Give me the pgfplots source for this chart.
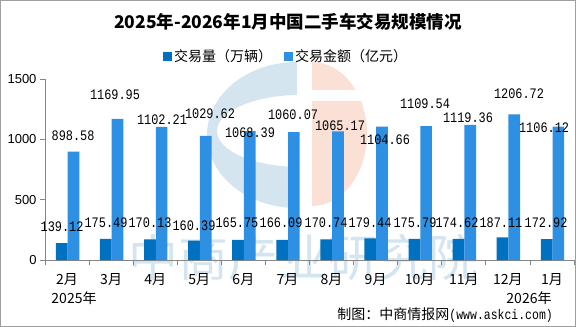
\documentclass[border=0pt]{standalone}
\usepackage{pgfplots}
\pgfplotsset{compat=1.18}
\usepackage{fontspec}
\setmainfont{Liberation Sans}
\newfontfamily\cjk{Noto Sans CJK SC}
\newfontfamily\numfont[FakeStretch=0.82]{Liberation Mono}
\definecolor{darkbar}{RGB}{0,112,192}
\definecolor{lightbar}{RGB}{46,144,226}
\definecolor{axisgray}{RGB}{134,134,134}
\definecolor{wmblue}{RGB}{212,229,240}
\definecolor{wmpeach}{RGB}{251,225,213}
\begin{document}
\begin{tikzpicture}
\useasboundingbox (0,0) rectangle (576bp,327bp);
\fill[white] (0,0) rectangle (576bp,327bp);
% watermark logo
\begin{scope}
\clip (0,0) rectangle (297bp,327bp);
\fill[wmblue, even odd rule] (297bp,192bp) ellipse [x radius=90bp, y radius=73bp] (300bp,196bp) ellipse [x radius=83bp, y radius=36bp];
\end{scope}
\begin{scope}
\clip (312bp,0) rectangle (576bp,327bp);
\fill[wmpeach] (312bp,193bp) ellipse [x radius=55bp, y radius=72bp];
\end{scope}
\fill[white] (312bp,226bp) rectangle (372bp,237bp);
\node[text=wmblue, font=\cjk\fontsize{50bp}{50bp}\selectfont] at (303bp,70bp) {中商产业研究院};
% title
\node[font=\cjk\bfseries\fontsize{17.5bp}{17.5bp}\selectfont] at (288bp,305bp) {2025年-2026年1月中国二手车交易规模情况};
\begin{axis}[
  at={(45bp,67bp)}, anchor=south west,
  scale only axis, width=529bp, height=181bp,
  xmin=-0.5, xmax=11.5, ymin=0, ymax=1500,
  axis x line*=bottom, axis y line*=left,
  axis line style={draw=axisgray, line width=0.8bp, -},
  ytick={0,500,1000,1500},
  /pgf/number format/1000 sep={},
  /pgf/number format/assume math mode=true,
  xtick={0,...,11},
  xticklabels={2月,3月,4月,5月,6月,7月,8月,9月,10月,11月,12月,1月},
  major x tick style={draw=none},
  minor xtick={-0.5,0.5,...,11.5},
  minor x tick style={draw=axisgray, line width=0.8bp},
  y tick style={draw=axisgray, line width=0.8bp},
  major tick length=5bp, minor tick length=5bp, tick align=outside,
  yticklabel style={font=\fontsize{13bp}{13bp}\selectfont},
  xticklabel style={font=\cjk\fontsize{14bp}{14bp}\selectfont, yshift=-4.5bp},
  legend style={at={(0.4556,1.127)}, anchor=center, draw=none, fill=none,
    font=\cjk\fontsize{14bp}{14bp}\selectfont, inner sep=0pt,
    /tikz/every even column/.append style={column sep=10bp}},
  legend columns=2,
  clip=false,
]
\addplot[ybar, bar width=11.7bp, bar shift=-5.3bp, fill=darkbar, draw=none,
  legend image code/.code={\fill[darkbar] (0bp,-4.5bp) rectangle (9bp,4.5bp);}]
  coordinates {(0,139.12) (1,175.49) (2,170.13) (3,160.39) (4,165.75) (5,166.09) (6,170.74) (7,179.44) (8,175.79) (9,174.62) (10,187.11) (11,172.92)};
\addlegendentry{交易量（万辆）}
\addplot[ybar, bar width=11.7bp, bar shift=6.4bp, fill=lightbar, draw=none,
  legend image code/.code={\fill[lightbar] (0bp,-4.5bp) rectangle (9bp,4.5bp);}]
  coordinates {(0,898.58) (1,1169.95) (2,1102.21) (3,1029.62) (4,1068.39) (5,1060.07) (6,1065.17) (7,1104.66) (8,1109.54) (9,1119.36) (10,1206.72) (11,1106.12)};
\addlegendentry{交易金额（亿元）}
\addplot[draw=none, mark=none, forget plot, nodes near coords, point meta=explicit symbolic,
  nodes near coords style={anchor=center, inner sep=0pt, text=black, font=\numfont\fontsize{14.5bp}{14.5bp}\selectfont}]
  table[meta=label] {
x y label
0.136 1027.6 898.58
1.088 1367.4 1169.95
2.154 1160.2 1102.21
3.243 1209.9 1029.62
4.150 1052.5 1068.39
5.127 1201.7 1060.07
6.193 1110.5 1065.17
7.213 994.5 1104.66
8.120 1292.8 1109.54
9.095 1176.8 1119.36
10.252 1375.7 1206.72
10.821 1093.9 1106.12
};
\addplot[draw=none, mark=none, forget plot, nodes near coords, point meta=explicit symbolic,
  nodes near coords style={anchor=center, inner sep=0pt, text=black, font=\numfont\fontsize{14.5bp}{14.5bp}\selectfont}]
  table[meta=label] {
x y label
-0.113 273.5 139.12
0.884 306.6 175.49
1.882 306.6 170.13
2.880 281.8 160.39
3.855 306.6 165.75
4.855 306.6 166.09
5.875 306.6 170.74
6.873 306.6 179.44
7.893 306.6 175.79
8.846 306.6 174.62
9.843 306.6 187.11
10.866 306.6 172.92
};
\end{axis}
\node[font=\cjk\fontsize{14bp}{14bp}\selectfont] at (74bp,29bp) {2025年};
\node[font=\cjk\fontsize{14bp}{14bp}\selectfont] at (529bp,29bp) {2026年};
\node[anchor=east, inner sep=0pt] at (553bp,12bp) {{\cjk\fontsize{14bp}{14bp}\selectfont 制图：中商情报网}{\numfont\fontsize{14bp}{14bp}\selectfont (www.askci.com)}};
\draw[draw=gray!75, line width=1bp] (0.5bp,0.5bp) rectangle (575.5bp,326.5bp);
\end{tikzpicture}
\end{document}
